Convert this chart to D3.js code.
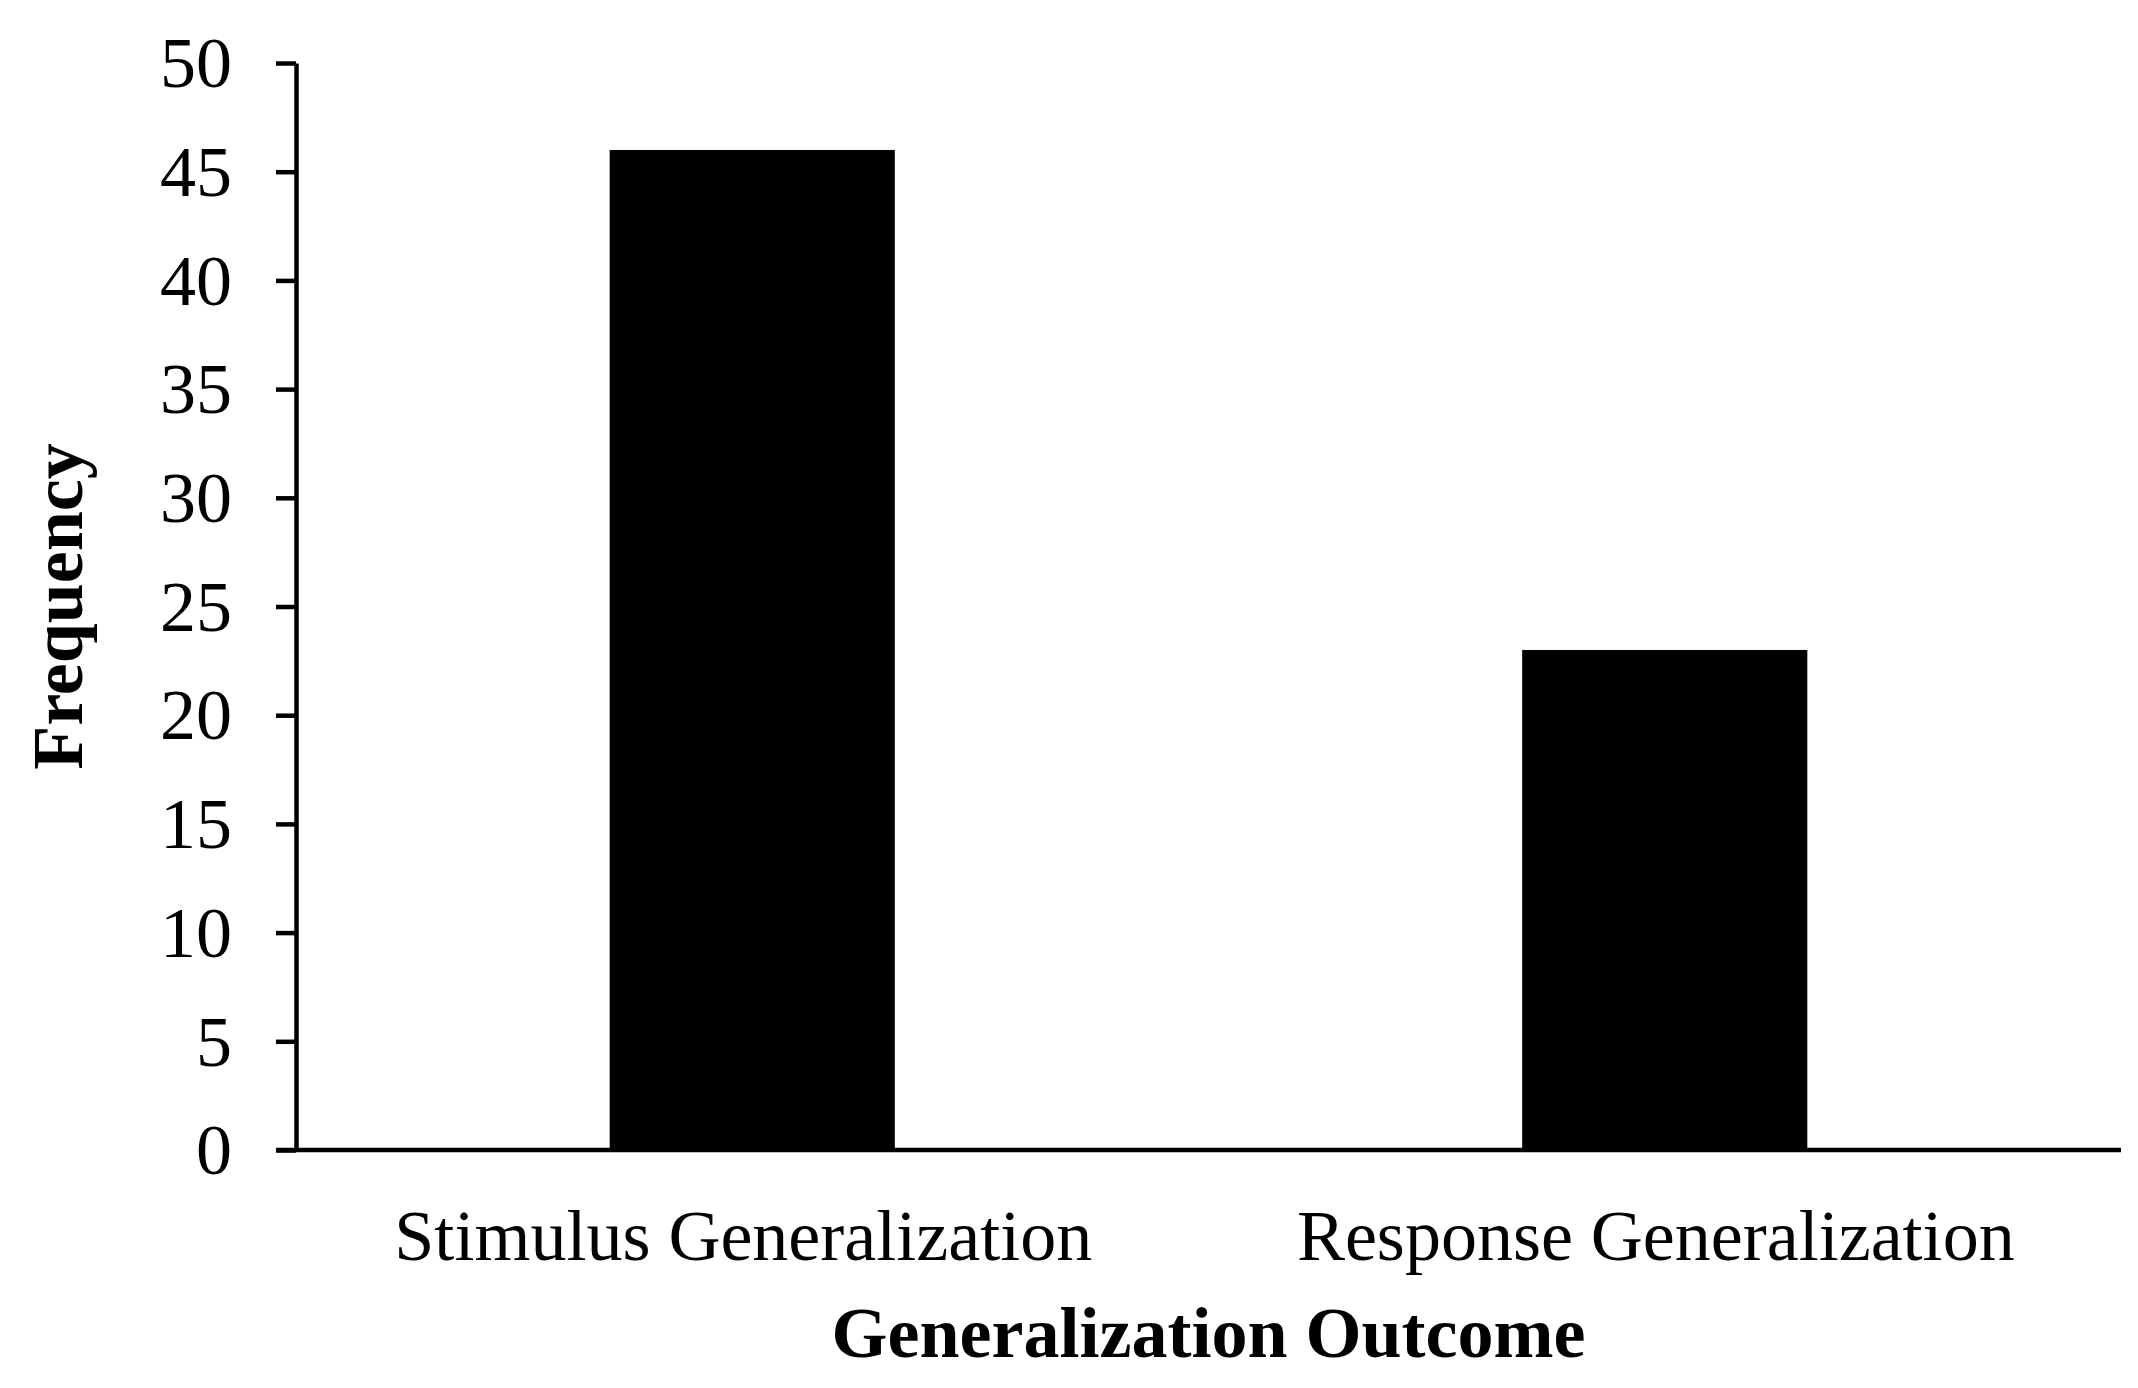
<!DOCTYPE html>
<html>
<head>
<meta charset="utf-8">
<title>Generalization Outcome</title>
<script src="https://cdn.jsdelivr.net/npm/d3@7"></script>
<style>
  body { margin: 0; background: #fff; }
  text { font-family: "Liberation Serif", "Times New Roman", serif; fill: #000; }
</style>
</head>
<body>
<script>
// chart data
var categories = ["Stimulus Generalization", "Response Generalization"];
var frequency = [46, 23];
var yTicks = [0, 5, 10, 15, 20, 25, 30, 35, 40, 45, 50];

var width = 2138, height = 1388;
// note: "top" is a reserved window property, so use plot* names
var plotLeft = 296, plotRight = 2121, plotTop = 63, plotBottom = 1150;

var svg = d3.select("body").append("svg")
    .attr("width", width)
    .attr("height", height);

svg.append("rect")
    .attr("width", width)
    .attr("height", height)
    .attr("fill", "#fff");

var x = d3.scaleBand()
    .domain(categories)
    .range([plotLeft, plotRight])
    .paddingInner(0.6875)
    .paddingOuter(0.34375);

var y = d3.scaleLinear()
    .domain([0, 50])
    .range([plotBottom, plotTop]);

// bars
svg.selectAll(".bar")
    .data(categories)
    .enter()
    .append("rect")
    .attr("class", "bar")
    .attr("x", function(d) { return x(d); })
    .attr("y", function(d, i) { return y(frequency[i]); })
    .attr("width", x.bandwidth())
    .attr("height", function(d, i) { return plotBottom - y(frequency[i]); })
    .attr("fill", "#000");

// y axis
var yAxis = svg.append("g")
    .attr("transform", "translate(" + plotLeft + ",0)")
    .call(d3.axisLeft(y).tickValues(yTicks).tickSize(20).tickSizeOuter(0).tickPadding(44));
yAxis.select(".domain").attr("stroke", "#000").attr("stroke-width", 4.5);
yAxis.selectAll(".tick line").attr("stroke", "#000").attr("stroke-width", 4.5);
yAxis.selectAll(".tick text")
    .style("font-size", "72px")
    .attr("dy", "0.33em");

// x axis
var xAxis = svg.append("g")
    .attr("transform", "translate(0," + plotBottom + ")")
    .call(d3.axisBottom(x).tickSize(0).tickSizeOuter(0).tickPadding(0));
xAxis.select(".domain")
    .attr("d", "M" + (plotLeft - 20) + ",0H" + plotRight)
    .attr("stroke", "#000")
    .attr("stroke-width", 4.5);
xAxis.selectAll(".tick text")
    .style("font-size", "72px")
    .attr("x", -9)
    .attr("y", 110)
    .attr("dy", 0);

// axis titles
svg.append("text")
    .attr("x", (plotLeft + plotRight) / 2)
    .attr("y", 1357)
    .attr("text-anchor", "middle")
    .style("font-size", "72px")
    .style("font-weight", "bold")
    .text("Generalization Outcome");

svg.append("text")
    .attr("transform", "translate(82," + ((plotTop + plotBottom) / 2) + ") rotate(-90)")
    .attr("text-anchor", "middle")
    .style("font-size", "72px")
    .style("font-weight", "bold")
    .text("Frequency");
</script>
</body>
</html>
